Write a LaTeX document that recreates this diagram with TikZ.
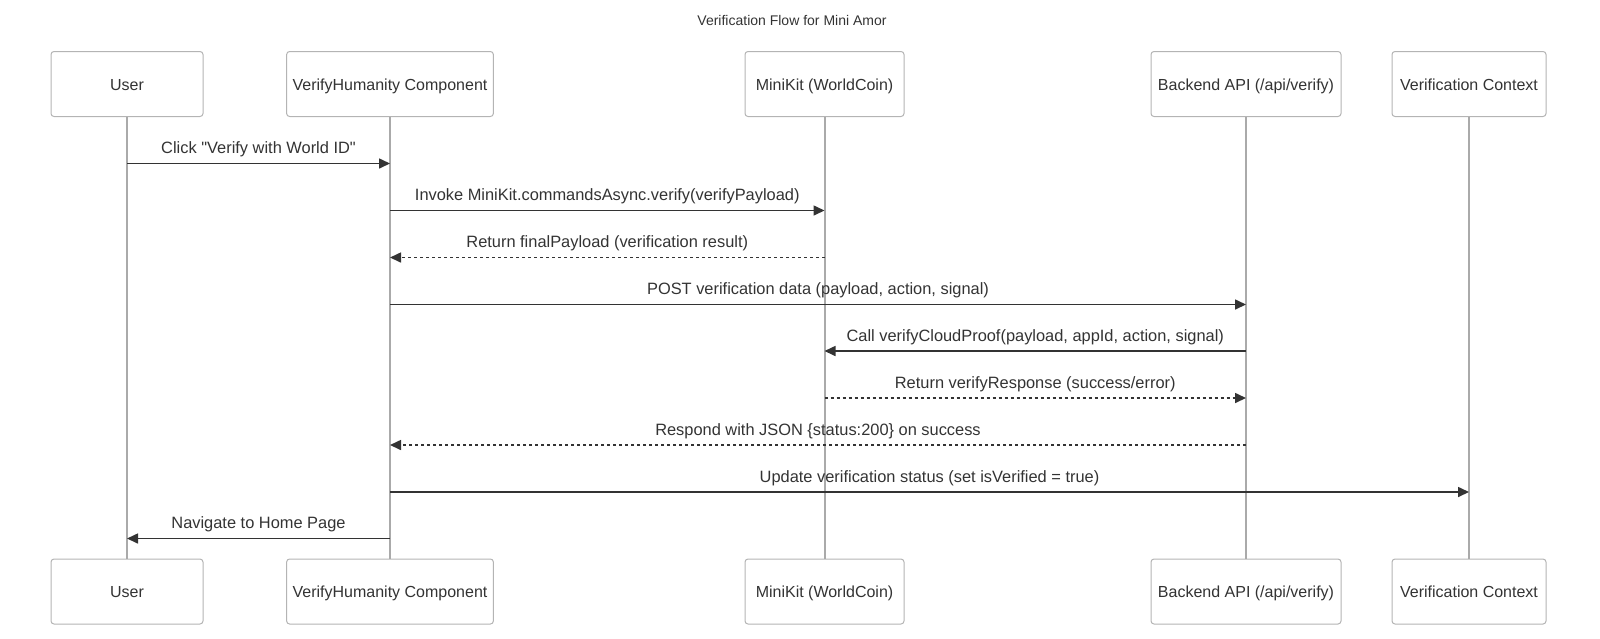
\documentclass[tikz,border=0pt]{standalone}
\usepackage{fontspec}
\setmainfont{Liberation Sans}[Ligatures=TeXOff]
\usetikzlibrary{arrows.meta}
\definecolor{linegray}{HTML}{AAAAAA}
\definecolor{boxgray}{HTML}{B4B4B4}
\definecolor{textdark}{HTML}{333333}
\tikzstyle{actor} = [rectangle, rounded corners=3, draw=boxgray, line width=1, fill=white, minimum height=65, inner xsep=6, text height=14, text depth=1.5, text=textdark, font=\fontsize{16}{19}\selectfont]
\tikzstyle{life} = [draw=linegray, line width=2]
\tikzstyle{msg} = [draw=textdark, line width=1.6, -{Triangle[length=11, width=10]}]
\tikzstyle{reply} = [msg, dash pattern=on 3 off 3]
\tikzstyle{msgtext} = [midway, above=5, inner sep=0, text depth=4, text=textdark, font=\fontsize{16.4}{19}\selectfont]

\begin{document}
\begin{tikzpicture}[x=1pt, y=-1pt]
        \useasboundingbox (0,0) rectangle (1600,638);
        \node (title) at (792,20.5) [text=textdark, font=\fontsize{14}{16}\selectfont] {Verification Flow for Mini Amor};
        % participants, top row
        \node (user) at (127,84) [actor, minimum width=152] {User};
        \node (verify) at (390,84) [actor, minimum width=206] {VerifyHumanity Component};
        \node (minikit) at (824.5,84) [actor, minimum width=159] {MiniKit (WorldCoin)};
        \node (backend) at (1246,84) [actor, minimum width=190] {Backend API (/api/verify)};
        \node (context) at (1469,84) [actor, minimum width=154] {Verification Context};
        % participants, bottom row
        \node (user-b) at (127,591.5) [actor, minimum width=152] {User};
        \node (verify-b) at (390,591.5) [actor, minimum width=206] {VerifyHumanity Component};
        \node (minikit-b) at (824.5,591.5) [actor, minimum width=159] {MiniKit (WorldCoin)};
        \node (backend-b) at (1246,591.5) [actor, minimum width=190] {Backend API (/api/verify)};
        \node (context-b) at (1469,591.5) [actor, minimum width=154] {Verification Context};

        \draw [life] (user) -- (user-b);
        \draw [life] (verify) -- (verify-b);
        \draw [life] (minikit) -- (minikit-b);
        \draw [life] (backend) -- (backend-b);
        \draw [life] (context) -- (context-b);

        \foreach \i/\y in {1/163.5, 2/210.5, 3/257.5, 4/304.5, 5/351, 6/398, 7/445, 8/492, 9/538.5}
            \coordinate (row\i) at (0,\y);

        \draw [msg] (user |- row1) -- node [msgtext] {Click "Verify with World ID"} (verify |- row1);
        \draw [msg] (verify |- row2) -- node [msgtext] {Invoke MiniKit.commandsAsync.verify(verifyPayload)} (minikit |- row2);
        \draw [reply] (minikit |- row3) -- node [msgtext] {Return finalPayload (verification result)} (verify |- row3);
        \draw [msg] (verify |- row4) -- node [msgtext] {POST verification data (payload, action, signal)} (backend |- row4);
        \draw [msg] (backend |- row5) -- node [msgtext] {Call verifyCloudProof(payload, appId, action, signal)} (minikit |- row5);
        \draw [reply] (minikit |- row6) -- node [msgtext] {Return verifyResponse (success/error)} (backend |- row6);
        \draw [reply] (backend |- row7) -- node [msgtext] {Respond with JSON \{status:200\} on success} (verify |- row7);
        \draw [msg] (verify |- row8) -- node [msgtext] {Update verification status (set isVerified = true)} (context |- row8);
        \draw [msg] (verify |- row9) -- node [msgtext] {Navigate to Home Page} (user |- row9);
\end{tikzpicture}
\end{document}
